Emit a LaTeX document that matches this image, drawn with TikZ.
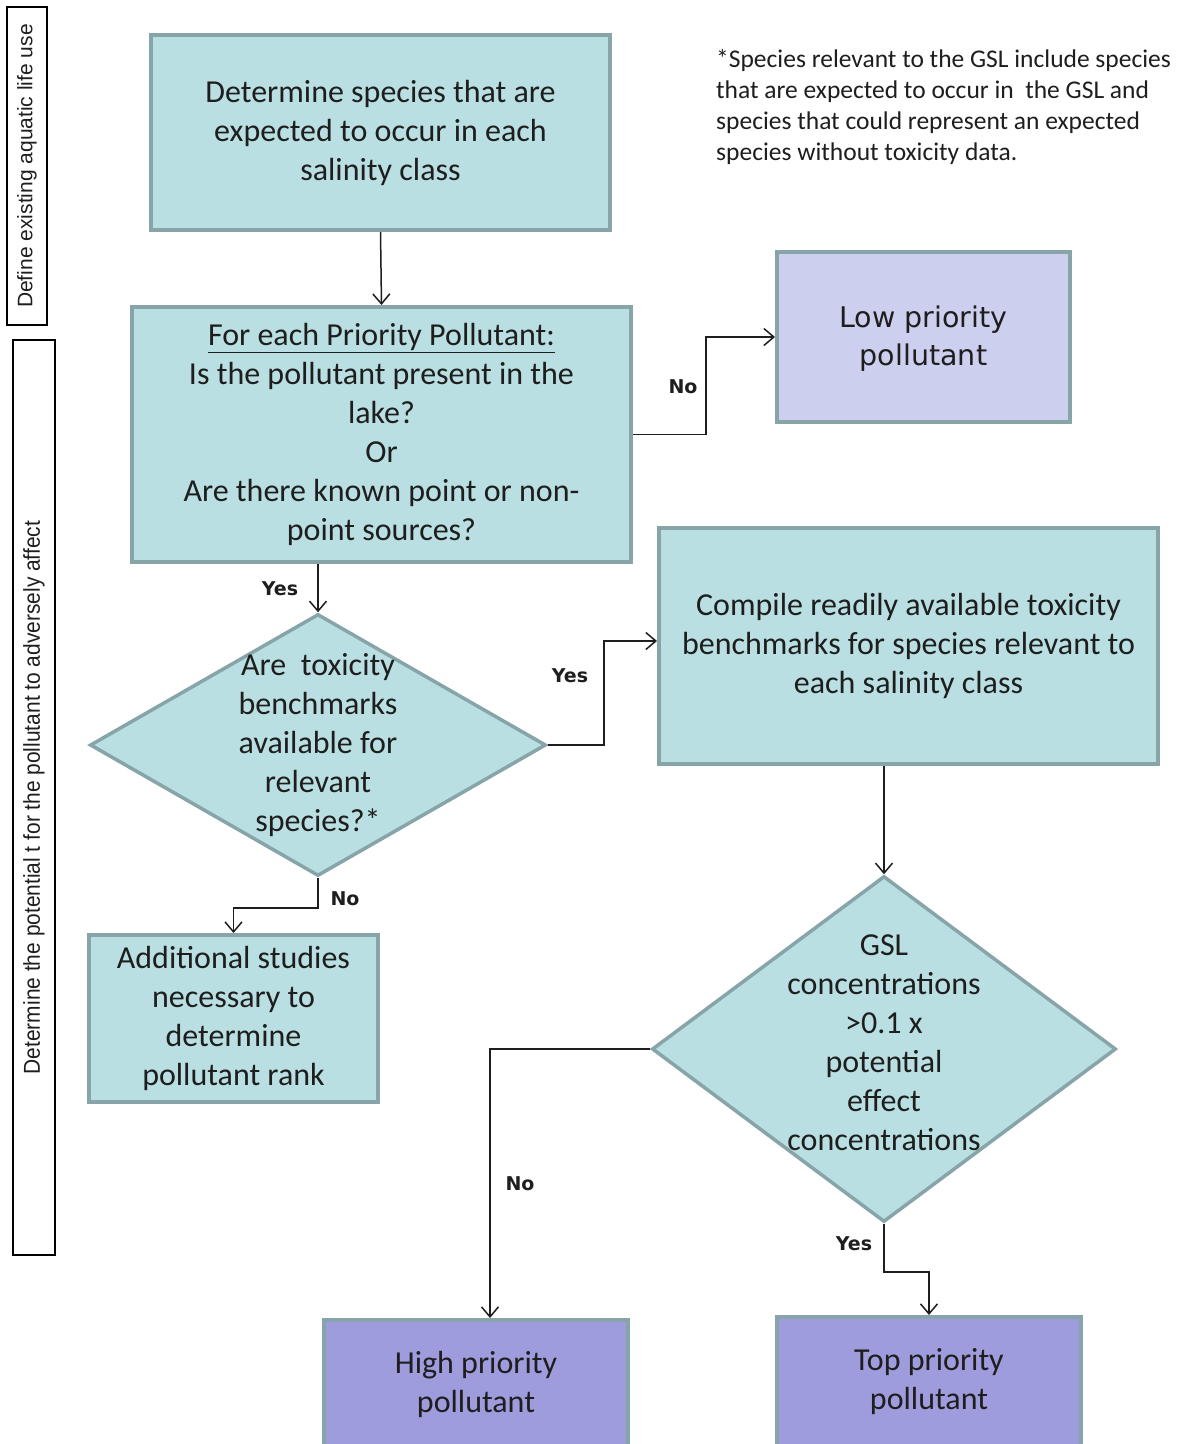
\documentclass[tikz,border=0pt]{standalone}
\usepackage{fontspec}
\setmainfont{Carlito}
\newfontfamily\tahomaf{DejaVu Sans}
\newfontfamily\arialf{Liberation Sans}
\newfontfamily\narrowf[FakeStretch=0.91]{Liberation Sans}
\usetikzlibrary{arrows.meta,shapes.geometric}
\definecolor{tealfill}{HTML}{B9DFE2}
\definecolor{bordc}{HTML}{87A5A8}
\definecolor{lavfill}{HTML}{CDCFEE}
\definecolor{purpfill}{HTML}{9E9CDC}
\definecolor{inkc}{HTML}{1E1E1E}
\tikzset{
  flowbox/.style={draw=bordc, line width=4pt, fill=tealfill, align=center, inner sep=0pt,
    font=\fontsize{32}{39}\selectfont, text=inkc},
  lowbox/.style={flowbox, fill=lavfill, font=\tahomaf\fontsize{28.5}{38}\selectfont},
  prbox/.style={flowbox, fill=purpfill},
  decision/.style={diamond, draw=bordc, line width=3.5pt, fill=tealfill, inner sep=0pt, aspect=1},
  dtext/.style={align=center, font=\fontsize{32}{39}\selectfont, text=inkc},
  conn/.style={draw=inkc, line width=1.5pt, -{Straight Barb[length=10pt,width=17pt,line width=1.5pt]}},
  lbl/.style={font=\tahomaf\bfseries\fontsize{19}{22}\selectfont, text=inkc},
  sidebox/.style={draw=black, line width=1.5pt, rotate=90, inner sep=0pt, text=inkc}
}
\begin{document}
\begin{tikzpicture}[x=1pt,y=-1pt]
\fill[white] (0,0) rectangle (1180,1444);
\useasboundingbox (0,0) rectangle (1180,1444);

% side labels
\node[sidebox, minimum width=318pt, minimum height=40pt, font=\arialf\fontsize{21}{24}\selectfont]
  (s1) at (27,166) {Define existing aquatic life use};
\node[sidebox, minimum width=915pt, minimum height=42pt, font=\narrowf\fontsize{23}{25}\selectfont]
  (s2) at (34,797.5) {Determine the potential t for the pollutant to adversely affect};

% boxes
\node[flowbox, minimum width=459pt, minimum height=195pt] (A) at (380.5,132.5)
  {Determine species that are\\expected to occur in each\\salinity class};
\node[flowbox, minimum width=499pt, minimum height=255pt] (B) at (381.5,434.5)
  {\underline{For each Priority Pollutant:}\\Is the pollutant present in the\\lake?\\Or\\Are there known point or non-\\point sources?};
\node[lowbox, minimum width=293pt, minimum height=170pt] (L) at (923.5,337) {};
\node[align=center, font=\tahomaf\fontsize{28.5}{38}\selectfont, text=inkc] (Lt) at (923.5,339)
  {Low priority\\pollutant};
\node[flowbox, minimum width=499pt, minimum height=236pt] (C) at (908.5,646)
  {Compile readily available toxicity\\benchmarks for species relevant to\\each salinity class};
\node[flowbox, minimum width=289pt, minimum height=167pt] (D) at (233.5,1018.5)
  {Additional studies\\necessary to\\determine\\pollutant rank};
\node[prbox, minimum width=304pt, minimum height=140pt] (H) at (476,1390) {};
\node[dtext] (Ht) at (476,1384) {High priority\\pollutant};
\node[prbox, minimum width=304pt, minimum height=143pt] (T) at (929,1388.5) {};
\node[dtext] (Tt) at (929,1382) {Top priority\\pollutant};

% decisions
\node[decision, minimum width=456pt, minimum height=262pt] (d1) at (318,745) {};
\node[dtext] (d1t) at (d1.center)
  {Are\ \ toxicity\\benchmarks\\available for\\relevant\\species?*};
\node[decision, minimum width=464pt, minimum height=346pt] (d2) at (884,1049) {};
\node[dtext] (d2t) at ([yshift=6pt]d2.center)
  {GSL\\concentrations\\>0.1 x\\potential\\effect\\concentrations};

% note
\node[align=left, anchor=north west, inner sep=0pt, font=\fontsize{25.5}{31}\selectfont, text=inkc]
  (note) at (716,49)
  {*Species relevant to the GSL include species\\that are expected to occur in\ \ the GSL and\\species that could represent an expected\\species without toxicity data.};

% connectors
\draw[conn] (A.south) -- (B.north);
\draw[conn] (B.east) -- ++(73,0) |- (L.west);
\node[lbl] (noL) at (683,387) {No};
\draw[conn] (d1.north |- B.south) -- (d1.north);
\node[lbl] (yes1) at (280,589) {Yes};
\draw[conn] (d1.east) -- ++(56,0) |- ([yshift=5pt]C.west);
\node[lbl] (yes2) at (570,676) {Yes};
\draw[conn] (d1.south) -- ++(0,30) -| (D.north);
\node[lbl] (no2) at (345,899) {No};
\draw[conn] (d2.north |- C.south) -- (d2.north);
\draw[conn] (d2.west) -| ([xshift=14pt]H.north);
\node[lbl] (no3) at (520,1184) {No};
\draw[conn] (d2.south) -- ++(0,48) -| (T.north);
\node[lbl] (yes3) at (854,1244) {Yes};
\end{tikzpicture}
\end{document}
